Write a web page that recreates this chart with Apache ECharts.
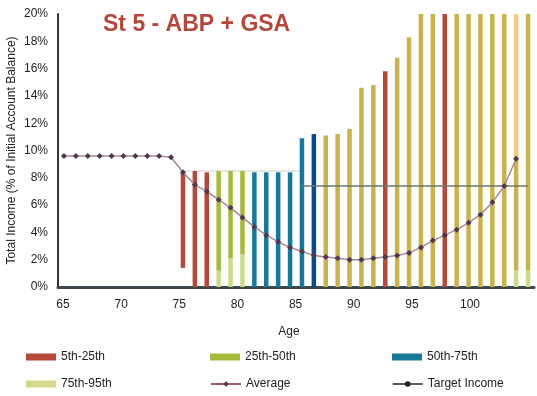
<!DOCTYPE html>
<html><head><meta charset="utf-8">
<script src="https://cdn.jsdelivr.net/npm/echarts@6/dist/echarts.min.js"></script>
<style>html,body{margin:0;padding:0;background:#fff}#c{width:537px;height:396px}</style>
</head><body><div id="c"></div>
<script>
// ---- data ----
const ages = ['65','66','67','68','69','70','71','72','73','74','75','76','77','78','79','80','81','82','83','84',
              '85','86','87','88','89','90','91','92','93','94','95','96','97','98','99','100','101','102','103','104'];
const ageTickLabels = [65,70,75,80,85,90,95,100];
const barAges = ['75','76','77','78','79','80','81','82','83','84','85','86','87','88','89',
                 '90','91','92','93','94','95','96','97','98','99','100','101','102','103','104'];
// each entry: [low, high] in % or null
const band5_25 = [[1.4,8.4],[0,8.5],[0,8.4],null,null,null,null,null,null,null,null,null,null,null,null,
                  null,null,[0,15.8],null,null,null,null,[0,20],null,null,null,null,null,null,null];
const band25_50Light = [null,null,null,[0,1.2],[0,2.1],[0,2.4],null,null,null,null,null,null,null,null,null,
                        null,null,null,null,null,null,null,null,null,null,null,null,null,[0,1.2],[0,1.2]];
const band25_50 = [null,null,null,[1.2,8.5],[2.1,8.5],[2.4,8.5],null,null,null,null,null,null,null,null,null,
                   null,null,null,null,null,null,null,null,null,null,null,null,null,null,null];
const band50_75 = [null,null,null,null,null,null,[0,8.4],[0,8.4],[0,8.4],[0,8.4],[0,10.9],[0,11.2],null,null,null,
                   null,null,null,null,null,null,null,null,null,null,null,null,null,null,null];
const band75_95 = [null,null,null,null,null,null,null,null,null,null,null,null,[0,11.1],[0,11.2],[0,11.6],
                   [0,14.6],[0,14.8],null,[0,16.8],[0,18.3],[0,20],[0,20],null,[0,20],[0,20],[0,20],[0,20],[0,20],[1.2,9.4],[1.2,20]];
const band75_95Top = [null,null,null,null,null,null,null,null,null,null,null,null,null,null,null,
                      null,null,null,null,null,null,null,null,null,null,null,null,null,[9.4,20],null];
const average = [9.6,9.6,9.6,9.6,9.6,9.6,9.6,9.6,9.6,9.5,8.4,7.5,7.0,6.4,5.8,5.1,4.4,3.8,3.3,2.9,
                 2.6,2.3,2.2,2.1,2.0,2.0,2.1,2.2,2.3,2.5,2.9,3.4,3.8,4.2,4.7,5.3,6.2,7.4,9.4,null];
const targetEarly = [null,null,null,null,null,null,null,null,null,null,8.5,8.5,8.5,8.5,8.5,8.5,8.5,8.5,8.5,8.5,
                     8.5,null,null,null,null,null,null,null,null,null,null,null,null,null,null,null,null,null,null,null];
const targetLate = [null,null,null,null,null,null,null,null,null,null,null,null,null,null,null,null,null,null,null,null,
                    7.4,7.4,7.4,7.4,7.4,7.4,7.4,7.4,7.4,7.4,7.4,7.4,7.4,7.4,7.4,7.4,7.4,7.4,7.4,7.4];

// ---- build stacked floating bars ----
const N = ages.length;
const stackOrder = [band25_50Light, band5_25, band25_50, band50_75, band75_95, band75_95Top];
function spread(arr){ const out = new Array(N).fill('-'); barAges.forEach((a,i)=>{ out[ages.indexOf(a)] = arr[i]; }); return out; }
const baseVals = barAges.map((a,i)=>{
  const lows = stackOrder.filter(b=>b[i]).map(b=>b[i][0]);
  return lows.length ? Math.min.apply(null, lows) : '-';
});
function lengths(band){ return spread(band.map(s => s ? +(s[1]-s[0]).toFixed(2) : 0)); }

const FONT = 'Liberation Sans, Arial, sans-serif';
const C = {
  red:'#b4493a', green:'#a5b93a', lightGreen:'#cbdb8c', teal:'#16799b', darkBlue:'#0a4a8c',
  mustard:'#c8b34e', lightOrange:'#f8c97a', legendYellow:'#d6d68a', avg:'#a88898', avgMarker:'#4e3a4a',
  targetDark:'#6e786a', targetLight:'#cfcfca'
};
const BW = 4.5;
function barSeries(name, band, color){
  return {name, type:'bar', stack:'s', barWidth:BW, data:lengths(band), itemStyle:{color}, emphasis:{disabled:true}};
}

const chart = echarts.init(document.getElementById('c'), null, {renderer:'canvas'});
const legendText = {fontFamily:FONT, fontSize:12, color:'#222'};
function leg(left, top, item){
  return {left, top, padding:0, itemWidth:30, itemHeight:7, textStyle:legendText, selectedMode:false, data:[item]};
}
chart.setOption({
  animation:false,
  title:{text:'St 5 - ABP + GSA', left:98, top:8, textStyle:{fontFamily:FONT, fontSize:23, fontWeight:'bold', color:'#b5473a'}},
  grid:{left:58, right:3, top:14, bottom:109, containLabel:false, outerBoundsMode:'none'},
  legend:[
    leg(26, 351, {name:'5th-25th', icon:'rect', itemStyle:{color:C.red}}),
    leg(26, 378, {name:'75th-95th', icon:'rect', itemStyle:{color:C.legendYellow}}),
    leg(210, 351, {name:'25th-50th', icon:'rect', itemStyle:{color:C.green}}),
    leg(210, 378, {name:'Average', lineStyle:{color:'#a05878'}}),
    leg(392, 351, {name:'50th-75th', icon:'rect', itemStyle:{color:C.teal}}),
    leg(392, 378, {name:'Target Income', itemStyle:{color:'#222'}, lineStyle:{color:'#222', width:1.5}})
  ],
  xAxis:[
    {type:'category', data:ages, boundaryGap:true, position:'bottom',
      axisLine:{lineStyle:{color:'#3c474c', width:3}}, axisTick:{show:false},
      axisLabel:{show:false}, splitLine:{show:false}},
    {type:'value', min:64.57, max:105.5, position:'bottom',
      name:'Age', nameLocation:'middle', nameGap:39, nameMoveOverlap:false,
      nameTextStyle:{fontFamily:FONT, fontSize:12, color:'#222', padding:[0,14,0,0]},
      axisLine:{show:false}, axisTick:{show:false}, splitLine:{show:false},
      axisLabel:{customValues:ageTickLabels, margin:12, fontFamily:FONT, fontSize:12, color:'#222'}}
  ],
  yAxis:{type:'value', min:0, max:20, interval:2,
    name:'Total Income (% of Initial Account Balance)', nameLocation:'middle', nameGap:40, nameMoveOverlap:false,
    nameTextStyle:{fontFamily:FONT, fontSize:12, color:'#222'},
    axisLine:{show:true, lineStyle:{color:'#333', width:2}}, axisTick:{show:false},
    axisLabel:{formatter:'{value}%', margin:10, fontFamily:FONT, fontSize:12, color:'#222'}, splitLine:{show:false}},
  series:[
    {name:'base', type:'bar', stack:'s', barWidth:BW, data:spread(baseVals), itemStyle:{color:'rgba(0,0,0,0)'}, silent:true},
    barSeries('25th-50th', band25_50Light, C.lightGreen),
    barSeries('5th-25th', band5_25, C.red),
    barSeries('25th-50th', band25_50, C.green),
    Object.assign(barSeries('50th-75th', band50_75, C.teal), {itemStyle:{color: p => p.name === '86' ? C.darkBlue : C.teal}}),
    barSeries('75th-95th', band75_95, C.mustard),
    barSeries('75th-95th', band75_95Top, C.lightOrange),
    {name:'Target Income', type:'line', data:targetLate, symbol:'none', lineStyle:{color:C.targetDark, width:1.5}, itemStyle:{color:C.targetDark}, z:3},
    {name:'Target Income', type:'line', data:targetEarly, symbol:'none', lineStyle:{color:C.targetLight, width:1.2}, z:1},
    {name:'Average', type:'line', data:average, symbol:'diamond', symbolSize:6, connectNulls:false,
      lineStyle:{color:C.avg, width:1.5}, itemStyle:{color:C.avgMarker}, z:4}
  ]
});
</script></body></html>
